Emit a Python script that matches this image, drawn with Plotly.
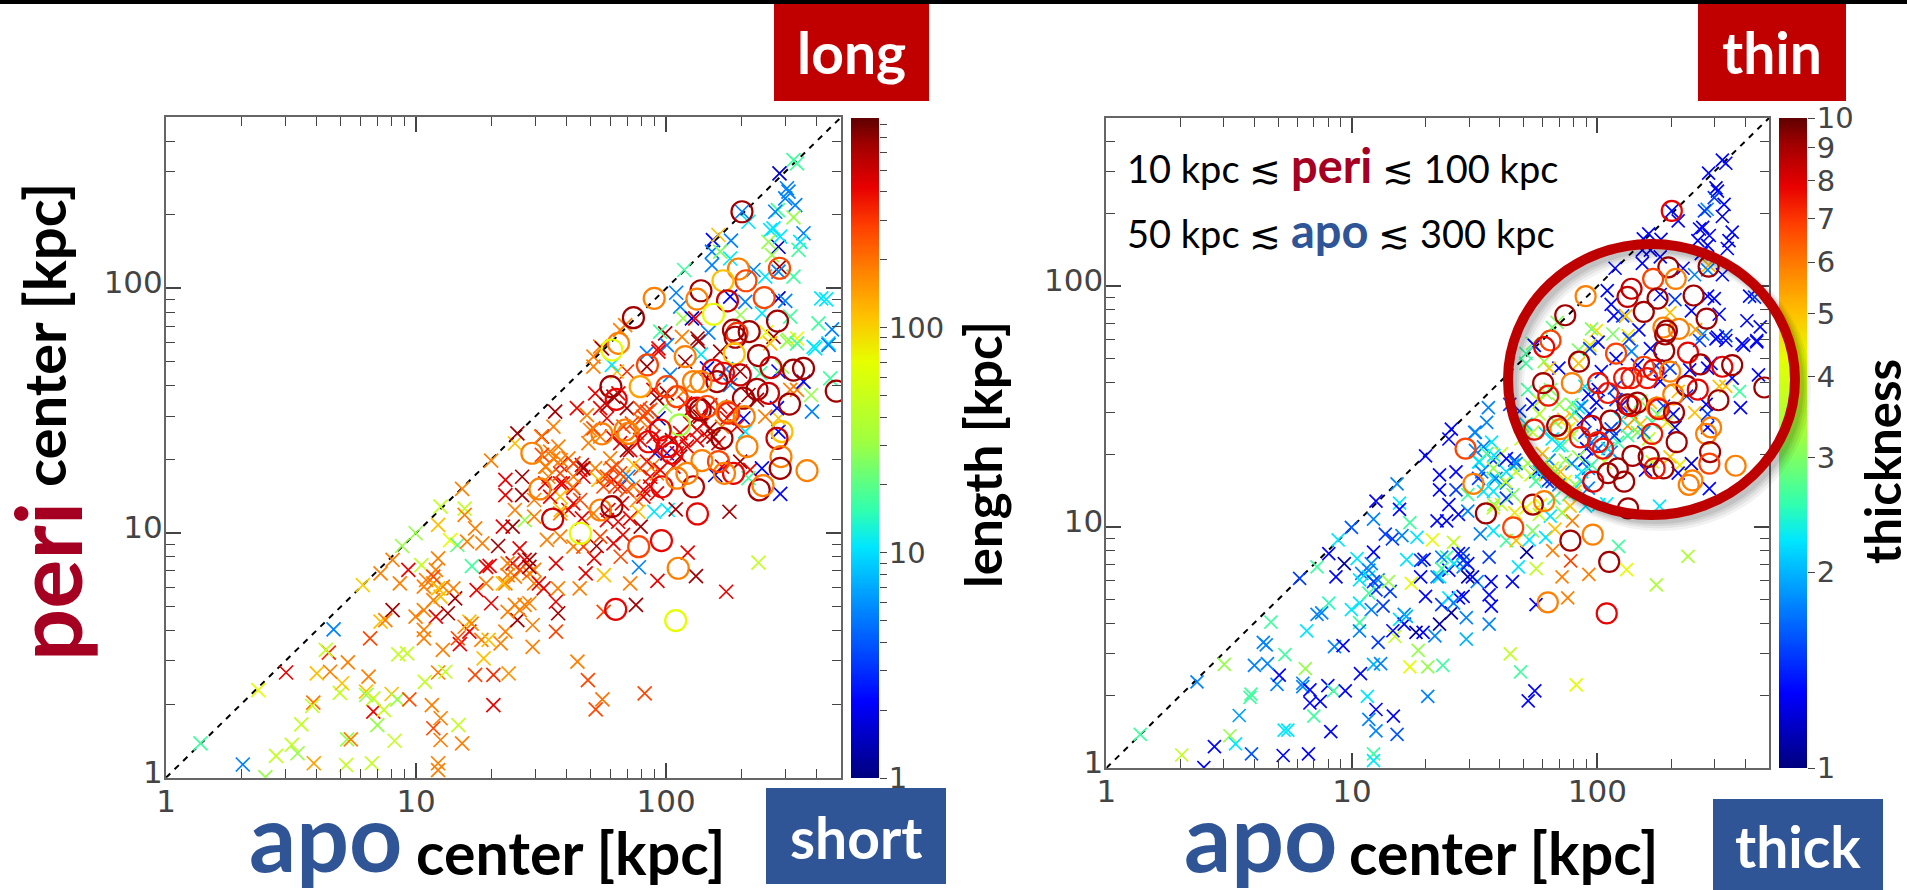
import numpy as np
import plotly.graph_objects as go

W, H = 1907, 890

# ---- values (apo/peri in log10 kpc, length in log10 kpc, thickness linear) ----
cross_log_apo = [
 .138,.307,.369,.48,.67,.44,.503,.526,.591,.397,.72,.823,1.088,1.088,.541,.724,.739,.914,.845,1.069,
 1.098,1.098,1.169,1.184,.589,.585,.695,.704,.603,.656,.651,.639,.727,.81,.80,.8,.829,.829,.871,.902,
 .925,.973,1.063,1.035,1.088,1.117,1.236,1.309,1.37,1.309,1.107,.929,.964,.816,.858,.877,.906,.787,.858,.906,
 .944,.998,1.098,1.184,1.3,1.395,1.405,.969,1.021,.935,1.04,1.079,1.088,1.194,1.194,1.236,1.136,1.165,1.204,1.088,
 1.223,1.294,1.328,1.265,1.347,1.386,1.434,1.414,1.453,1.386,1.559,1.395,1.357,1.453,1.472,1.51,1.567,1.156,1.069,1.079,
 1.127,1.031,.998,1.031,1.031,1.098,1.107,1.149,1.242,1.28,1.194,1.213,1.175,1.213,1.261,1.29,1.338,1.27,1.357,1.405,
 1.466,1.466,1.559,1.568,1.559,1.366,1.3,1.434,1.395,1.645,1.687,1.745,1.718,1.914,1.654,1.75,1.879,1.856,1.965,2.119,
 2.086,1.891,2.24,2.369,1.678,1.751,1.712,1.722,1.789,1.818,1.827,1.898,1.808,1.856,1.952,2.006,2.038,2.253,2.509,2.523,
 2.453,2.483,2.489,2.516,2.476,2.447,2.436,2.303,2.329,2.509,2.416,2.429,2.409,2.449,2.456,2.549,2.536,2.529,2.423,2.187,
 2.209,2.259,2.183,2.216,2.256,2.183,2.072,2.453,2.449,2.509,2.396,2.349,2.04,2.056,2.067,2.103,2.116,2.256,2.316,2.296,
 2.383,2.449,2.476,2.496,2.62,2.64,2.609,2.663,2.489,2.523,2.649,2.589,2.169,1.996,1.976,2.063,2.125,2.003,1.969,2.429,
 2.40,1.816,1.836,1.736,2.129,2.216,2.076,1.923,1.969,1.923,1.843,1.743,1.709,1.709,1.803,1.783,1.556,1.643,1.683,1.716,
 1.789,1.809,1.736,1.763,1.843,1.549,1.503,1.696,1.689,1.763,1.783,1.816,1.856,1.896,1.923,1.943,1.883,1.969,1.996,2.016,
 2.003,2.069,2.096,2.149,2.176,2.123,2.083,2.163,2.069,1.956,2.003,2.056,1.949,1.923,1.896,1.803,1.829,1.789,1.749,1.816,
 1.849,1.869,1.776,1.663,1.656,1.576,1.569,1.536,1.516,1.609,1.576,1.629,1.669,1.716,1.729,1.576,1.609,1.663,1.823,1.769,
 1.883,1.909,1.936,1.963,1.889,2.223,2.296,2.336,2.383,2.456,2.196,2.329,2.316,2.449,2.309,2.396,2.449,2.443,2.583,2.579,
 2.523,2.496,2.549,2.656,2.376,2.449,2.163,2.256,2.296,2.363,2.329,2.216,2.269,2.243,2.223,2.283,2.209,2.483,2.523,2.596,
 2.649,2.416,2.463,2.139,2.24,1.5,1.578,1.357,1.424,1.587,1.357,1.424,1.395,1.472,1.472,1.578,1.626,1.52,
 1.736,1.709,1.829,1.863,1.909,1.896,1.843,1.949,1.976,2.043,2.023,1.976,2.029,1.936,1.963,1.909,1.869,1.843,1.783,1.763,
 1.816,1.796,1.749,1.629,1.669,1.629,1.576,1.529,1.549,1.503,1.516,1.536,1.629,1.576,1.709,1.656,1.763,1.576,1.629,1.523,
 1.669,1.736,2.136,2.176,2.096,2.123,2.189,2.056,2.076,1.963,1.949,1.936,1.896,1.434,1.366,1.472,1.415,1.453,1.366,1.347,
 1.491,1.28,1.069,1.031,1.088,1.069,1.167,1.222,1.453,1.414]
cross_log_peri = [
 .140,.054,.358,.43,.606,.089,.134,.10,.059,.002,.052,.059,.059,.031,.218,.157,.157,.151,.215,.202,
 .243,.154,.215,.14,.307,.293,.347,.386,.426,.433,.511,.522,.471,.413,.352,.338,.27,.324,.277,.342,
 .32,.32,.297,.392,.43,.433,.42,.42,.426,.297,.522,.504,.508,.569,.638,.644,.685,.787,.835,.89,
 .947,.999,1.108,1.18,1.296,1.366,1.407,.849,.869,.794,.808,.849,1.033,1.1,1.074,1.019,.971,.951,.965,.896,
 .865,.866,.947,.958,1.026,1.026,1.053,.937,.89,.876,.876,.822,.794,.835,.794,.774,.774,.733,.794,.658,
 .672,.685,.658,.604,.569,.74,.781,.774,.767,.794,.617,.597,.546,.638,.563,.563,.549,.488,.597,.644,
 .624,.535,.597,.672,.719,.678,.713,.706,.706,.474,.399,.32,.279,.345,.774,.678,.706,.794,.804,.824,
 .92,.86,.76,.879,.835,.828,.896,.947,.958,.903,.992,1.026,1.046,1.06,1.087,1.094,1.097,1.087,2.524,2.511,
 2.47,2.409,2.395,2.34,2.368,2.32,2.313,2.313,2.272,2.29,2.238,2.245,2.19,2.17,2.211,2.225,2.19,2.157,2.136,2.197,
 2.218,2.195,2.15,2.15,2.122,2.095,2.075,2.088,2.068,2.048,2.048,2.075,1.982,1.925,1.877,1.877,1.877,1.966,1.945,1.891,
 1.898,1.959,1.949,1.884,1.959,1.955,1.857,1.832,1.789,1.795,1.775,1.761,1.819,1.816,1.823,1.802,1.795,1.768,1.755,1.802,
 1.82,1.829,1.85,1.762,1.782,1.741,1.7,1.735,1.741,1.68,1.66,1.755,1.721,1.68,1.66,1.687,1.496,1.51,1.482,1.571,
 1.557,1.571,1.51,1.523,1.51,1.435,1.394,1.421,1.367,1.469,1.394,1.367,1.339,1.462,1.496,1.448,1.408,1.469,1.517,1.646,
 1.571,1.578,1.503,1.448,1.428,1.421,1.353,1.394,1.38,1.326,1.326,1.312,1.278,1.292,1.264,1.278,1.23,1.217,1.23,1.19,
 1.23,1.278,1.305,1.278,1.258,1.278,1.353,1.333,1.271,1.305,1.203,1.183,1.23,1.265,1.217,1.149,1.094,1.06,1.121,1.094,
 1.135,1.176,1.23,1.244,1.087,1.271,1.292,1.258,1.264,1.16,1.237,1.224,1.414,1.414,1.469,1.476,1.469,1.51,1.496,1.564,
 1.585,1.585,1.619,1.632,1.653,1.66,1.673,1.605,1.66,1.544,1.564,1.517,1.503,1.469,1.435,1.435,1.367,1.782,1.775,1.755,
 1.769,1.775,1.68,1.73,1.67,1.394,1.298,1.217,1.23,1.203,1.155,1.155,1.094,1.067,1.135,1.094,1.189,1.271,
 1.394,1.428,1.435,1.448,1.476,1.38,1.339,1.394,1.353,1.326,1.38,1.258,1.271,1.19,1.162,1.149,1.19,1.176,1.264,1.23,
 1.244,1.19,1.19,1.23,1.264,1.285,1.244,1.23,1.305,1.319,1.203,1.149,1.121,1.08,1.08,1.135,1.053,.985,.944,.972,
 .944,.985,1.476,1.523,1.448,1.38,1.394,1.408,1.53,1.551,1.585,1.503,1.51,.89,.876,.849,.849,.862,.828,.794,
 .794,.862,.822,.781,.774,.726,.57,.63,.713,.685]
cross_log_length = [
 1.23,.73,1.85,2.61,.73,1.67,1.67,1.47,2.15,1.47,1.67,1.67,2.26,2.26,1.67,1.47,2.26,1.67,1.47,2.43,
 2.26,2.26,1.67,2.26,2.3,1.67,1.67,2.05,2.05,2.26,2.5,1.67,2.26,2.26,2.05,1.47,2.61,1.67,1.67,2.05,
 1.47,2.4,2.26,1.67,2.26,1.67,2.43,2.5,2.2,2.61,2.26,1.67,1.67,2.43,2.05,2.26,2.81,2.0,2.26,2.26,
 1.47,1.47,1.67,2.26,2.26,2.05,2.81,2.61,1.67,2.26,2.26,2.26,2.05,1.67,2.26,2.26,1.85,1.3,2.26,2.26,
 1.23,2.61,2.81,2.26,2.61,2.81,1.47,2.61,2.81,2.61,2.61,2.26,2.26,2.26,2.26,2.61,2.26,2.81,2.26,2.61,
 2.81,2.26,2.26,2.26,2.26,2.05,2.26,2.26,2.61,2.26,2.26,2.61,2.61,2.05,2.26,2.05,2.26,2.05,2.26,2.81,
 2.26,2.26,2.43,2.81,2.61,2.26,2.61,2.26,2.26,2.26,2.43,2.3,2.43,2.43,2.26,2.43,2.81,2.26,2.61,2.81,
 2.61,.73,2.61,1.67,2.61,2.05,2.61,2.81,2.61,2.43,2.61,2.81,2.61,2.61,1.03,1.03,2.81,2.81,1.23,1.23,
 .2,.73,.73,.73,.73,1.23,.73,.73,1.03,1.47,1.03,1.03,1.47,.2,1.03,.73,1.03,1.23,1.47,.35,
 2.05,.73,.73,1.4,1.03,.73,1.23,2.81,.73,1.23,1.03,.73,.73,.73,1.47,.2,2.61,.35,.73,1.47,
 1.03,.2,.73,1.23,1.03,1.03,1.23,.73,1.47,1.85,1.03,1.03,.73,2.81,1.23,2.26,2.81,.73,2.61,2.81,
 1.85,2.26,2.26,2.26,2.81,2.81,2.81,.73,2.61,2.81,2.5,2.81,2.26,2.26,2.05,1.03,2.81,2.61,2.26,2.61,
 2.81,2.61,2.61,2.81,2.81,2.26,2.61,2.26,2.26,2.61,2.61,2.61,2.61,2.26,2.43,2.43,2.43,.2,1.47,.73,
 2.81,2.26,2.81,2.61,2.81,2.61,2.61,2.61,2.61,.2,.35,2.81,2.26,2.61,2.43,2.43,2.26,2.61,2.43,2.61,
 .73,2.05,2.26,2.75,2.61,2.61,2.26,2.26,2.26,2.26,2.61,2.61,2.61,2.26,2.05,2.05,2.61,2.61,2.61,2.61,
 2.26,2.61,2.61,2.26,2.05,2.61,2.81,2.61,.35,.35,.2,1.23,1.03,.35,.35,2.26,2.05,.35,.73,1.47,
 2.26,2.26,.35,1.23,1.23,.35,.35,.73,2.81,2.81,2.81,2.61,2.61,2.61,2.26,2.61,2.61,1.47,1.23,1.03,
 .73,2.05,1.47,1.03,.73,2.26,2.26,2.61,2.81,2.61,2.61,2.81,2.26,2.26,2.26,2.05,2.26,2.26,
 2.26,2.43,2.43,2.43,2.43,2.61,2.81,2.61,2.61,2.61,2.81,2.61,2.61,2.61,2.61,2.61,2.26,2.43,2.43,2.43,
 2.43,2.43,2.43,2.26,2.81,2.43,2.43,2.26,2.26,2.43,2.61,2.61,2.61,2.26,2.26,2.43,2.61,2.26,2.26,2.26,
 2.43,2.43,2.81,2.61,2.61,2.61,2.81,2.61,2.61,2.81,2.61,2.43,2.43,2.61,2.26,2.26,2.43,2.81,2.26,2.05,
 2.61,2.61,2.43,2.26,2.05,2.26,2.43,2.26,2.26,2.26]
cross_thickness = [
 2.63,3.7,1.78,3.16,2.63,1.32,3.16,2.24,1.6,1.32,1.32,1.32,2.63,2.24,1.9,2.24,2.24,1.32,2.63,1.78,
 1.32,1.78,1.32,1.6,2.63,2.63,1.78,1.32,1.78,1.78,1.78,1.78,2.63,3.16,1.78,1.78,1.32,1.32,1.32,1.32,
 2.63,1.32,2.24,1.32,2.0,1.78,4.3,3.16,2.63,1.78,1.5,1.78,1.32,2.24,1.78,1.78,2.5,1.5,2.63,1.32,
 2.24,1.6,1.32,1.78,1.32,1.32,1.32,1.07,2.24,1.32,1.78,1.78,1.78,2.24,1.32,2.63,1.5,1.5,1.78,1.32,
 2.24,1.32,4.3,2.24,1.32,1.32,1.32,3.7,1.5,2.63,1.5,1.32,2.24,1.78,1.07,1.78,1.32,1.5,2.24,1.78,
 1.5,2.24,2.24,2.63,1.78,1.5,1.78,3.16,4.3,1.32,2.24,1.32,3.7,1.78,1.07,1.32,1.78,3.16,1.07,1.07,
 1.78,2.0,1.78,1.32,1.32,1.5,1.32,1.32,2.24,3.7,2.63,1.32,1.32,4.3,1.32,1.32,5.9,5.9,5.9,4.3,
 2.63,6.8,3.4,3.4,2.24,3.7,1.07,2.24,2.24,5.9,5,5.9,2.24,3.16,2.24,2.24,2.24,2.24,1.32,1.32,
 1.32,1.2,1.32,1.32,1.5,1.78,1.5,1.32,1.32,1.2,1.32,1.32,1.32,1.32,1.32,1.32,1.32,1.32,1.32,1.32,
 1.32,1.32,1.32,1.32,1.32,1.32,1.32,5,1.78,1.32,1.78,1.32,1.32,1.32,1.32,1.5,5,1.32,1.5,5,
 1.32,1.32,1.32,1.32,1.32,1.5,1.32,1.32,1.32,1.5,1.32,1.32,1.32,4.6,3.0,3,4.6,1.32,4.5,1.78,
 5.5,2.8,3.0,2.9,1.5,1.32,1.32,3,1.5,5,1.32,1.32,2.63,2.63,5,3.16,1.78,1.5,1.5,2.63,
 3.16,3,1.32,3.5,3.16,1.78,1.78,3,3.7,3.5,2.24,2.24,2.63,5,2.24,1.32,4.3,1.32,1.32,1.32,
 1.32,1.5,1.32,2.63,5,5.5,2.63,3,1.5,1.32,1.6,1.78,1.32,3.16,1.78,1.78,2.63,5,1.32,1.5,
 5,3.16,5,1.5,2.0,1.5,2.24,1.78,2.24,3.7,2.24,1.78,3.7,3.16,3.7,2.24,3.7,4.5,2.63,4.3,
 2.63,3.16,2.24,1.78,5,3.7,5,4.5,1.2,1.32,1.32,1.32,1.32,1.32,1.32,5,1.5,1.32,1.32,2.63,
 5,5,1.32,1.32,1.32,1.32,1.32,1.32,1.5,1.5,5,5,1.5,3,2.63,4.5,3.7,1.32,1.32,1.32,
 1.32,1.5,1.32,1.78,1.5,1.78,2.24,1.32,1.32,1.78,1.32,1.5,1.32,1.78,2.63,3.16,3.7,2.24,
 3.7,2.24,3,5,2.63,3.16,2.24,1.5,1.78,2.24,1.5,2.63,3.7,2.24,1.78,5,4.3,1.78,3,2.24,
 3.7,1.5,2.63,2.24,1.78,1.32,3.16,1.78,2.63,1.78,1.5,2.24,1.5,3.7,4.3,3,3.7,2.24,2.63,1.78,
 5,3,5.9,3,2.24,2.63,1.78,1.5,1.5,1.32,2.24,1.78,3,1.32,1.78,1.32,2.24,1.5,2.63,1.78,
 1.32,1.5,1.78,2.24,1.5,2.63,1.32,2.0,1.32,1.78]

circle_log_apo = [
 2.303,2.453,2.289,2.319,2.227,2.139,2.123,1.952,2.245,2.392,2.189,2.445,1.869,1.809,1.783,2.269,2.332,2.283,2.276,2.076,
 1.925,2.272,2.369,2.419,2.509,2.549,2.68,2.189,2.229,2.296,2.203,2.139,2.109,2.003,1.896,1.779,1.8,2.043,2.363,2.409,
 2.309,2.493,2.123,2.136,2.163,2.243,2.25,2.312,2.053,1.976,1.743,1.849,1.836,1.929,2.223,2.003,2.023,2.323,2.463,2.443,
 2.459,2.456,2.563,2.372,2.387,2.269,2.233,2.209,2.143,1.983,2.109,2.043,2.083,1.463,1.495,1.546,1.657,1.737,1.783,1.89,
 1.981,2.048,2.125,1.798,2.038]
circle_log_peri = [
 2.313,2.082,2.079,2.031,2.031,1.99,1.956,1.959,1.949,1.962,1.894,1.866,1.88,1.775,1.748,1.829,1.823,1.816,1.8,1.721,
 1.687,1.732,1.725,1.676,1.666,1.673,1.58,1.666,1.653,1.646,1.619,1.619,1.619,1.598,1.598,1.598,1.546,1.557,1.587,1.571,
 1.551,1.527,1.51,1.503,1.517,1.496,1.49,1.476,1.442,1.421,1.405,1.407,1.421,1.373,1.387,1.353,1.326,1.353,1.414,1.387,
 1.312,1.264,1.255,1.176,1.194,1.244,1.244,1.292,1.296,1.189,1.189,1.224,1.244,1.326,1.18,1.057,.999,1.094,1.108,.944,
 .969,.856,1.078,.688,.642]
circle_log_length = [
 2.81,2.43,2.26,2.43,2.05,2.81,2.26,2.26,2.7,2.43,1.85,2.81,2.81,2.26,1.85,2.81,2.81,2.5,2.81,2.26,
 2.43,2.05,2.81,2.7,2.81,2.81,2.81,2.61,2.61,2.7,2.81,2.26,2.26,2.43,2.15,2.81,2.61,2.43,2.81,2.7,
 2.81,2.81,2.61,2.81,2.43,2.26,2.5,2.26,1.5,2.61,2.26,2.26,2.26,2.61,2.81,2.61,2.61,2.26,2.05,2.7,
 2.26,2.81,2.26,2.81,2.26,2.61,2.26,2.43,2.26,2.61,2.75,2.26,2.26,2.26,2.26,2.7,1.85,2.26,2.81,2.43,
 2.61,2.26,2.61,2.61,1.85]
circle_thickness = [
 7.8,9.1,9.1,5.9,6.8,8.5,8.5,5.9,9.1,9.1,9.1,9.1,9.1,6.8,7.8,5.9,5.9,9.1,9.1,6.8,
 9.1,9.1,7.8,9.1,7.8,9.1,9.1,6.8,7.8,5.9,7.5,7.5,7.5,7.5,5.9,9.1,7.5,7.5,9.1,7.8,
 5.9,9.1,9.1,7.8,9.1,5.9,7.5,9.1,9.1,8.5,7.5,5.9,9.1,7.5,7.5,7.5,7.5,9.1,5.9,5.9,
 9.1,6.8,5.9,5.9,5.9,9.1,7.5,9.1,9.1,8,9.1,9.1,9.1,6.8,5.9,9.1,6.8,9.1,5.9,9.1,
 5.9,9.1,9.1,5.9,7.8]
assert len(cross_log_apo) == len(cross_log_peri) == len(cross_log_length) == len(cross_thickness), (
    len(cross_log_apo), len(cross_log_peri), len(cross_log_length), len(cross_thickness))
assert len(circle_log_apo) == len(circle_log_peri) == len(circle_log_length) == len(circle_thickness)

axis_major = [1, 10, 100]
axis_major_text = ["1", "10", "100"]
axis_minor = [2, 3, 4, 5, 6, 7, 8, 9, 20, 30, 40, 50, 60, 70, 80, 90, 200, 300, 400]
length_ticks = [1,2,3,4,5,6,7,8,9,10,20,30,40,50,60,70,80,90,100,200,300,400,500,600,700,800]
length_tick_text = ["1" if v == 1 else "10" if v == 10 else "100" if v == 100 else "" for v in length_ticks]
thick_ticks = [1,2,3,4,5,6,7,8,9,10]

CS = [[0,"#00007f"],[.115,"#0000ff"],[.27,"#0096ff"],[.35,"#00e6ff"],[.405,"#30ffb0"],[.51,"#a0ff40"],
      [.63,"#e6ff00"],[.70,"#ffc000"],[.77,"#ff8000"],[.835,"#ff4000"],[.895,"#e80000"],[.96,"#a00000"],[1,"#600000"]]
LEN_MAX = 2.93
RED, BLUE, CRIMSON = "#C00000", "#2F5597", "#A50021"
TICK = "#444444"; FRAME = "#666666"
FONT = "Lato"; TICKFONT = "DejaVu Sans"

def fx(p): return p / W
def fy(p): return 1 - p / H
def dex(a): return np.power(10.0, np.array(a))

fig = go.Figure()

def panel(xa, ya, ccol, ocol, cmax, size_x, size_o):
    fig.add_trace(go.Scatter(x=[1, 500], y=[1, 500], mode="lines", xaxis=xa, yaxis=ya, showlegend=False,
                             line=dict(color="black", width=2, dash="6px,6px")))
    fig.add_trace(go.Scatter(x=dex(cross_log_apo), y=dex(cross_log_peri), mode="markers", xaxis=xa, yaxis=ya, showlegend=False,
                             marker=dict(symbol="x-thin-open", size=size_x, color=ccol, colorscale=CS, cmin=0, cmax=cmax,
                                         line=dict(width=1.7))))
    fig.add_trace(go.Scatter(x=dex(circle_log_apo), y=dex(circle_log_peri), mode="markers", xaxis=xa, yaxis=ya, showlegend=False,
                             marker=dict(symbol="circle-open", size=size_o, color=ocol, colorscale=CS, cmin=0, cmax=cmax,
                                         line=dict(width=2.2))))

panel("x", "y", cross_log_length, circle_log_length, LEN_MAX, 14, 21)
panel("x2", "y2", np.log10(cross_thickness), np.log10(circle_thickness), 1, 13, 20)

# colour bars drawn as heat strips so that the red ellipse can lie over them
bar_frac = np.linspace(0, 1, 300)
fig.add_trace(go.Heatmap(x=[0], y=bar_frac * LEN_MAX, z=(bar_frac * LEN_MAX)[:, None], colorscale=CS, zmin=0, zmax=LEN_MAX,
                         showscale=False, xaxis="x3", yaxis="y3", hoverinfo="skip"))
fig.add_trace(go.Heatmap(x=[0], y=bar_frac, z=bar_frac[:, None], colorscale=CS, zmin=0, zmax=1,
                         showscale=False, xaxis="x4", yaxis="y4", hoverinfo="skip"))

def main_axis(dom, anchor, shift=0):
    return dict(type="log", range=[0, np.log10(500)], domain=dom, anchor=anchor, showgrid=False, zeroline=False,
                automargin=False, showline=True, mirror="ticks", linecolor=FRAME, linewidth=2,
                tickmode="array", tickvals=axis_major, ticktext=axis_major_text,
                ticks="inside", ticklen=15, tickwidth=1.5, tickcolor=TICK,
                minor=dict(ticks="inside", ticklen=9, tickwidth=1.2, tickcolor=TICK, tickmode="array", tickvals=axis_minor, showgrid=False),
                ticklabelstandoff=-5, ticklabelshift=shift,
                tickfont=dict(family=TICKFONT, size=31, color=TICK))

def bar_x(dom, anchor):
    return dict(domain=dom, anchor=anchor, visible=False, range=[-.5, .5], fixedrange=True, automargin=False)

def bar_y(dom, anchor, rng, vals, text):
    return dict(domain=dom, anchor=anchor, side="right", range=rng, showgrid=False, zeroline=False, showline=False, automargin=False,
                tickmode="array", tickvals=vals, ticktext=text, ticks="outside", ticklen=7, tickwidth=1.3, tickcolor=TICK,
                ticklabelstandoff=-4, tickfont=dict(family=TICKFONT, size=29, color=TICK))

layout = dict(
    width=W, height=H, margin=dict(l=0, r=0, t=0, b=0), paper_bgcolor="white", plot_bgcolor="white", showlegend=False,
    xaxis=main_axis([fx(166), fx(841)], "y"),
    yaxis=main_axis([fy(777.7), fy(117.3)], "x", -6),
    xaxis2=main_axis([fx(1106.4), fx(1769)], "y2"),
    yaxis2=main_axis([fy(768), fy(118)], "x2", -6),
    xaxis3=bar_x([fx(851), fx(879)], "y3"),
    yaxis3=bar_y([fy(778), fy(118)], "x3", [0, LEN_MAX], list(np.log10(length_ticks)), length_tick_text),
    xaxis4=bar_x([fx(1779), fx(1807)], "y4"),
    yaxis4=bar_y([fy(768), fy(118)], "x4", [0, 1], list(np.log10(thick_ticks)), [str(v) for v in thick_ticks]),
)
fig.update_layout(**layout)

def rect(x0, y0, x1, y1, color):
    return dict(type="rect", xref="paper", yref="paper", x0=fx(x0), x1=fx(x1), y0=fy(y1), y1=fy(y0),
                fillcolor=color, line=dict(width=0), layer="above")

shapes = [rect(0, 0, W, 4, "black"), rect(774, 4, 929, 101, RED), rect(766, 788, 946, 884, BLUE),
          rect(1698, 4, 1846, 101, RED), rect(1713, 799, 1883, 890, BLUE)]
# soft shadow under the ellipse
for off, wid, alpha in [(8, 16, .05), (7, 13, .06), (6, 10, .07), (5, 8, .08)]:
    shapes.append(dict(type="circle", xref="paper", yref="paper", x0=fx(1508 + off), x1=fx(1795 + off),
                       y0=fy(515 + off), y1=fy(244 + off), line=dict(color=f"rgba(0,0,0,{alpha})", width=wid), layer="above"))
shapes.append(dict(type="circle", xref="paper", yref="paper", x0=fx(1508), x1=fx(1795), y0=fy(515), y1=fy(244),
                   line=dict(color="#BE0000", width=10), layer="above"))
fig.update_layout(shapes=shapes)

def note(x, y, text, size, color="black", bold=True, angle=0, anchor="center"):
    fig.add_annotation(xref="paper", yref="paper", x=fx(x), y=fy(y), text=f"<b>{text}</b>" if bold else text, showarrow=False,
                       textangle=angle, xanchor=anchor, yanchor="middle",
                       font=dict(family=FONT, size=size, color=color))

note(851, 52, "long", 57, "white")
note(856, 837, "short", 57, "white")
note(1772, 52, "thin", 57, "white")
note(1798, 846, "thick", 57, "white")
note(46, 582, "peri", 92, CRIMSON, angle=-90)
note(44, 335, "center [kpc]", 58, angle=-90)
note(325, 836, "apo", 93, BLUE)
note(570, 852, "center [kpc]", 59)
note(1260, 836, "apo", 93, BLUE)
note(1503, 852, "center [kpc]", 59)
note(982, 455, "length [kpc]", 51, angle=-90)
note(1882, 462, "thickness", 49, angle=-90)
note(1125, 165, f'10 kpc ≲ <b><span style="color:{CRIMSON};font-size:47px">peri</span></b> ≲ 100 kpc', 38, bold=False, anchor="left")
note(1125, 230, f'50 kpc ≲ <b><span style="color:{BLUE};font-size:47px">apo</span></b> ≲ 300 kpc', 38, bold=False, anchor="left")

fig.write_html("out.html", config={"displayModeBar": False},
               post_script="document.body.style.margin='0';document.body.style.overflow='hidden';")
